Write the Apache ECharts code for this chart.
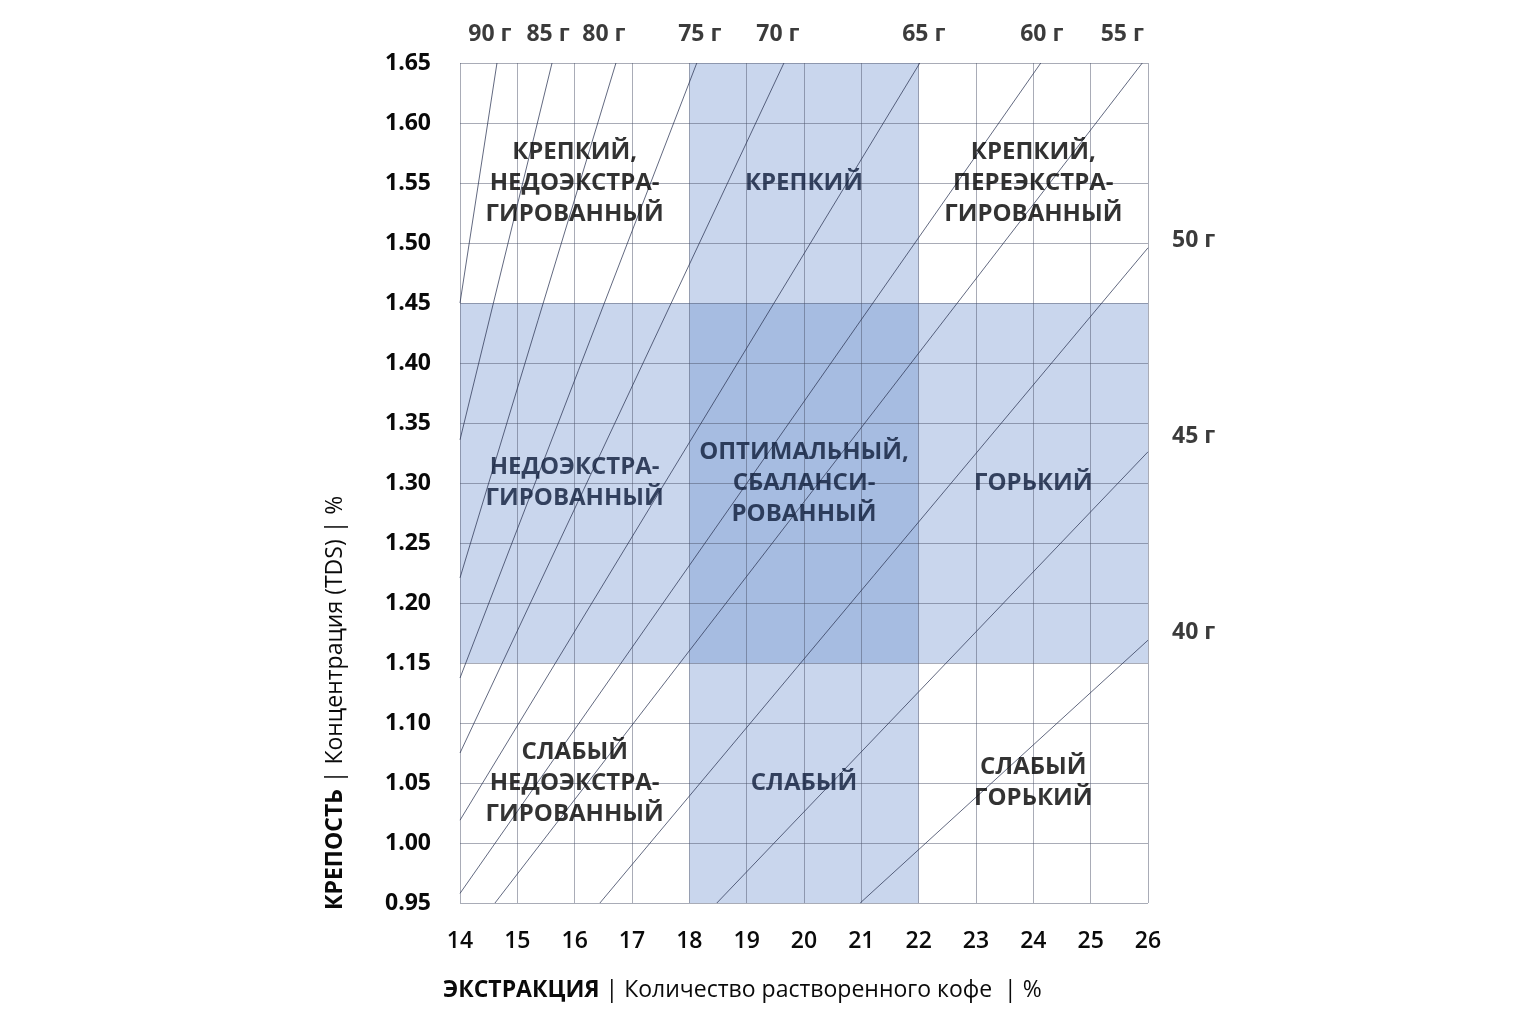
<!DOCTYPE html>
<html>
<head>
<meta charset="utf-8">
<script src="https://cdn.jsdelivr.net/npm/echarts@6/dist/echarts.min.js"></script>
<style>
html,body{margin:0;padding:0;background:#fff;}
#chart{width:1536px;height:1024px;}
</style>
</head>
<body>
<div id="chart"></div>
<script>
// ---- data ----
const xTicks = [14,15,16,17,18,19,20,21,22,23,24,25,26];
const yTicks = [0.95,1.00,1.05,1.10,1.15,1.20,1.25,1.30,1.35,1.40,1.45,1.50,1.55,1.60,1.65];
// brew-ratio lines (grams of coffee per litre)
const doseNames = ['90 г','85 г','80 г','75 г','70 г','65 г','60 г','55 г','50 г','45 г','40 г'];
const lineStartEY  = [14,    14,    14,    14,     14,    14,    14,    14.61, 16.44, 18.48, 20.98];
const lineStartTDS = [1.45,  1.336, 1.221, 1.1375, 1.075, 1.019, 0.958, 0.95,  0.95,  0.95,  0.95];
const lineEndEY    = [14.645,15.605,16.72, 18.13,  19.65, 22.02, 24.13, 25.9,  26,    26,    26];
const lineEndTDS   = [1.65,  1.65,  1.65,  1.65,   1.65,  1.65,  1.65,  1.65,  1.496, 1.326, 1.169];
// ideal zone
const idealEY = [18, 22];
const idealTDS = [1.15, 1.45];
// region labels
const regionText = [
  'КРЕПКИЙ,\nНЕДОЭКСТРА-\nГИРОВАННЫЙ', 'КРЕПКИЙ', 'КРЕПКИЙ,\nПЕРЕЭКСТРА-\nГИРОВАННЫЙ',
  'НЕДОЭКСТРА-\nГИРОВАННЫЙ', 'ОПТИМАЛЬНЫЙ,\nСБАЛАНСИ-\nРОВАННЫЙ', 'ГОРЬКИЙ',
  'СЛАБЫЙ\nНЕДОЭКСТРА-\nГИРОВАННЫЙ', 'СЛАБЫЙ', 'СЛАБЫЙ\nГОРЬКИЙ'
];
const regionEY  = [16, 20, 24, 16, 20, 24, 16, 20, 24];
const regionTDS = [1.55,1.55,1.55,1.30,1.30,1.30,1.05,1.05,1.05];
const regionShaded = [false,true,false,true,true,true,false,true,false];
const xTitleBold = 'ЭКСТРАКЦИЯ';
const xTitleRest = ' | Количество растворенного кофе  | %';
const yTitleBold = 'КРЕПОСТЬ';
const yTitleRest = ' | Концентрация (TDS) | %';

// ---- label placement (style, px) ----
const doseLabelDX = [-7, -4, -12, 3, -6, 4, 1, -20, 0, 0, 0];
const doseLabelDY = [0, 0, 0, 0, 0, 0, 0, 0, -7, -15, -8];

// ---- chart ----
const FONT = '"Open Sans", "Noto Sans", sans-serif';
const chart = echarts.init(document.getElementById('chart'));

const fill = 'rgba(105,140,205,0.36)';
const lineSeries = doseNames.map((name, i) => ({
  type: 'line', name: name, z: 5, silent: true, symbol: 'none',
  lineStyle: { color: 'rgba(45,55,85,0.75)', width: 1 },
  data: [[lineStartEY[i], lineStartTDS[i]], [lineEndEY[i], lineEndTDS[i]]]
}));

const doseLabelSeries = {
  type: 'scatter', z: 10, silent: true, symbolSize: 0, clip: false,
  data: doseNames.map((name, i) => {
    const top = lineEndTDS[i] >= 1.65;
    return {
      value: [lineEndEY[i], lineEndTDS[i]],
      label: { show: true, formatter: name,
        position: top ? 'top' : 'right',
        distance: top ? 17 : 24,
        offset: [doseLabelDX[i], doseLabelDY[i]],
        fontFamily: FONT, fontWeight: 'bold', fontSize: 23, color: '#0a0a0a' }
    };
  })
};

const option = {
  animation: false,
  backgroundColor: '#fff',
  grid: { left: 460, right: 388, top: 63, bottom: 121, containLabel: false },
  xAxis: {
    type: 'value', min: 14, max: 26, interval: 1, z: 3,
    axisLine: { show: false }, axisTick: { show: false },
    splitLine: { show: true, lineStyle: { color: 'rgba(75,82,105,0.48)', width: 1 } },
    axisLabel: { margin: 27, fontFamily: FONT, fontSize: 23, fontWeight: 600, color: '#0a0a0a',
      formatter: v => xTicks.includes(v) ? String(v) : '' }
  },
  yAxis: {
    type: 'value', min: 0.95, max: 1.65, interval: 0.05, z: 3,
    axisLine: { show: false }, axisTick: { show: false },
    splitLine: { show: true, lineStyle: { color: 'rgba(75,82,105,0.48)', width: 1 } },
    axisLabel: { margin: 29, fontFamily: FONT, fontSize: 23, fontWeight: 'bold', color: '#0a0a0a',
      formatter: v => v.toFixed(2) }
  },
  series: [
    {
      type: 'line', data: [], z: 1, silent: true,
      markArea: { silent: true, itemStyle: { color: fill },
        data: [
          [{ xAxis: idealEY[0], yAxis: 0.95 }, { xAxis: idealEY[1], yAxis: 1.65 }],
          [{ xAxis: 14, yAxis: idealTDS[0] }, { xAxis: 26, yAxis: idealTDS[1] }]
        ] }
    },
    ...lineSeries,
    doseLabelSeries,
    {
      type: 'scatter', z: 10, silent: true, symbolSize: 0,
      data: regionText.map((t, i) => ({
        value: [regionEY[i], regionTDS[i]],
        label: { show: true, position: 'inside', formatter: t,
          fontFamily: FONT, fontWeight: 'bold', fontSize: 24, lineHeight: 31, align: 'center',
          color: regionShaded[i] ? '#0e1c3a' : '#000' }
      }))
    }
  ],
  graphic: [
    { type: 'text', left: 443, top: 979,
      style: { text: '{b|' + xTitleBold + '}{n|' + xTitleRest + '}',
        rich: { b: { fontFamily: FONT, fontWeight: 'bold', fontSize: 23, fill: '#0a0a0a' },
                n: { fontFamily: FONT, fontSize: 23, fill: '#0a0a0a' } } } },
    { type: 'text', x: 335, y: 910, rotation: Math.PI / 2,
      style: { text: '{b|' + yTitleBold + '}{n|' + yTitleRest + '}', verticalAlign: 'middle',
        rich: { b: { fontFamily: FONT, fontWeight: 'bold', fontSize: 23, fill: '#0a0a0a' },
                n: { fontFamily: FONT, fontSize: 23, fill: '#0a0a0a' } } } }
  ]
};
chart.setOption(option);
</script>
</body>
</html>
